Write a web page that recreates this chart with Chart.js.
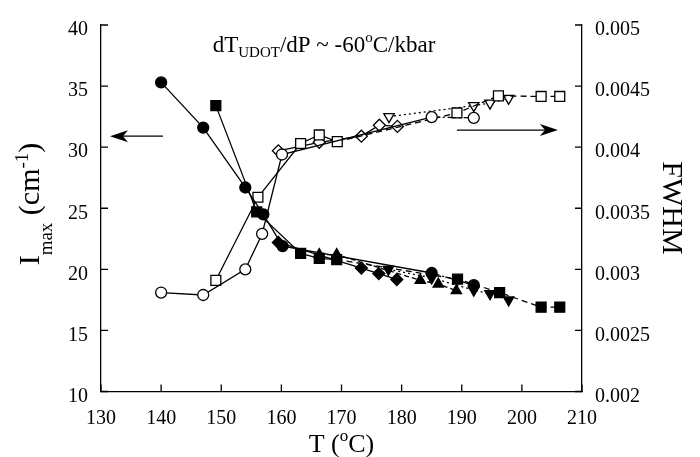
<!DOCTYPE html>
<html><head><meta charset="utf-8">
<script src="https://cdn.jsdelivr.net/npm/chart.js@4/dist/chart.umd.min.js"></script>
<style>html,body{margin:0;padding:0;background:#fff}</style>
</head><body>
<canvas id="c" width="700" height="457"></canvas>
<script>
// ---- tick labels ----
const xTicks = [130,140,150,160,170,180,190,200,210];
const yTicks = [10,15,20,25,30,35,40];
const y2Ticks = [0.002,0.0025,0.003,0.0035,0.004,0.0045,0.005];
const y2Labels = ['0.002','0.0025','0.003','0.0035','0.004','0.0045','0.005'];

// ---- circle run ----
const circT  = [140,147,154,157,160.2,185,192];
const circI  = [35.3,31.6,26.7,24.5,21.9,19.7,18.7];
const circFT = [140,147,154,156.8,160.1,185,192];
const circF  = [0.00281,0.00279,0.0030,0.00329,0.00394,0.004246,0.00424];

// ---- square run ----
const sqT  = [149.1,155.9,163.2,166.3,169.2,189.3,196.3,203.2,206.3];
const sqI  = [33.4,24.7,21.3,20.9,20.8,19.2,18.1,16.9,16.9];
const sqFT = [149.1,156.1,163.2,166.3,169.3,189.2,196.1,203.2,206.3];
const sqF  = [0.00291,0.00359,0.00403,0.0041,0.004045,0.00428,0.00442,0.004415,0.004415];

// ---- diamond run ----
const diaT  = [159.5,173.3,176.2,179.2];
const diaI  = [22.2,20.1,19.65,19.17];
const diaFT = [159.5,166.3,173.3,176.3,179.3];
const diaF  = [0.00397,0.00404,0.00409,0.00418,0.00417];

// ---- up-triangle run ----
const triT = [166.3,169.2,183.1,186.1,189.1];
const triI = [21.2,21.2,19.1,18.8,18.25];

// ---- down-triangle run ----
const invT  = [177.8,185,192,194.7,197.8];
const invI  = [20.0,19.3,18.3,18.0,17.5];
const invFT = [177.9,192,194.7,197.8];
const invF  = [0.00425,0.00434,0.00436,0.0044];

// ---- arrows [from, to] ----
const arrowLeft  = [[140.3,30.9],[131.5,30.9]];      // (T, Imax)
const arrowRight = [[189.2,0.00414],[206.0,0.00414]]; // (T, FWHM)

const SERIF = '"Liberation Serif","Times New Roman",serif';

function pts(xs, ys){ return xs.map((x,i)=>({x:x, y:ys[i]})); }
function ds(xs, ys, axis, style, r, filled, opts){
  return Object.assign({
    data: pts(xs, ys), yAxisID: axis, showLine: true,
    borderColor:'#000', borderWidth:1.3,
    pointStyle: style, pointRadius: r, pointHoverRadius: r,
    pointBackgroundColor: filled ? '#000' : '#fff',
    pointBorderColor:'#000', pointBorderWidth: 1.3,
    fill:false, tension:0
  }, opts||{});
}
const dashAfter = (t, dash) => ({ borderDash: c => c.p0.parsed.x >= t ? dash : undefined });

const datasets = [
  ds(circT, circI, 'y', 'circle', 5.5, true, {segment: dashAfter(170,[8,3,2,3])}),
  ds(circFT, circF, 'y2', 'circle', 5.5, false, {segment: dashAfter(170,[8,3,2,3])}),
  ds(sqT, sqI, 'y', 'rect', 7, true, {segment: dashAfter(169,[6,4])}),
  ds(sqFT, sqF, 'y2', 'rect', 7, false, {segment: dashAfter(169,[6,4])}),
  ds(diaT, diaI, 'y', 'rectRot', 6, true, {segment: dashAfter(176.5,[6,3])}),
  ds(diaFT, diaF, 'y2', 'rectRot', 6, false, {segment: dashAfter(176.5,[6,3])}),
  ds(triT, triI, 'y', 'triangle', 6, true, {borderDash:[5,3]}),
  ds(invT, invI, 'y', 'triangle', 6, true, {pointRotation:180, borderDash:[2,3]}),
  ds(invFT, invF, 'y2', 'triangle', 6, false, {pointRotation:180, borderDash:[2,3]})
];

function drawParts(ctx, parts, x, y, align){
  let w = 0;
  for (const p of parts){ ctx.font = p[1]+'px '+SERIF; w += ctx.measureText(p[0]).width; }
  let cx = align === 'center' ? x - w/2 : x;
  ctx.textAlign = 'left'; ctx.textBaseline = 'alphabetic';
  for (const p of parts){
    ctx.font = p[1]+'px '+SERIF;
    ctx.fillText(p[0], cx, y + p[2]);
    cx += ctx.measureText(p[0]).width;
  }
}

const decor = {
  id:'decor',
  afterDraw(chart){
    const ctx = chart.ctx, X = chart.scales.x, Y = chart.scales.y, Y2 = chart.scales.y2;
    const ca = chart.chartArea;
    ctx.save();
    ctx.strokeStyle = '#000'; ctx.fillStyle = '#000'; ctx.lineWidth = 1.3;
    // inward ticks
    ctx.beginPath();
    for (const v of xTicks){ const px = X.getPixelForValue(v); ctx.moveTo(px, ca.bottom); ctx.lineTo(px, ca.bottom-7); }
    for (const v of yTicks){ const py = Y.getPixelForValue(v); ctx.moveTo(ca.left, py); ctx.lineTo(ca.left+7, py); }
    for (const v of y2Ticks){ const py = Y2.getPixelForValue(v); ctx.moveTo(ca.right, py); ctx.lineTo(ca.right-7, py); }
    ctx.stroke();
    // arrows
    const arrow = (a, ys) => {
      const x0 = X.getPixelForValue(a[0][0]), y0 = ys.getPixelForValue(a[0][1]);
      const x1 = X.getPixelForValue(a[1][0]), y1 = ys.getPixelForValue(a[1][1]);
      const L = Math.hypot(x1-x0, y1-y0), dx = (x1-x0)/L, dy = (y1-y0)/L, nx = -dy, ny = dx;
      const H = 18, W = 6;
      ctx.beginPath(); ctx.moveTo(x0, y0); ctx.lineTo(x1 - dx*H*0.7, y1 - dy*H*0.7); ctx.stroke();
      ctx.beginPath();
      ctx.moveTo(x1, y1);
      ctx.lineTo(x1 - dx*H + nx*W, y1 - dy*H + ny*W);
      ctx.lineTo(x1 - dx*H*0.72, y1 - dy*H*0.72);
      ctx.lineTo(x1 - dx*H - nx*W, y1 - dy*H - ny*W);
      ctx.closePath(); ctx.fill();
    };
    arrow(arrowLeft, Y); arrow(arrowRight, Y2);
    // annotation
    drawParts(ctx, [['dT',23,0],['UDOT',15,5],['/dP ~ -60',23,0],['o',15,-10],['C/kbar',23,0]], 324, 52, 'center');
    // x title
    drawParts(ctx, [['T (',26,0],['o',17,-11],['C)',26,0]], (ca.left+ca.right)/2, 452, 'center');
    // left title
    ctx.save(); ctx.translate(39, 204); ctx.rotate(-Math.PI/2);
    drawParts(ctx, [['I',30,0],['max',19,13],[' (cm',30,0],['-1',19,-11],[')',30,0]], 0, 0, 'center');
    ctx.restore();
    // right title
    ctx.save(); ctx.translate(663, 208); ctx.rotate(Math.PI/2);
    drawParts(ctx, [['FWHM',30,0]], 0, 0, 'center');
    ctx.restore();
    ctx.restore();
  }
};

const tickFont = {family: SERIF, size: 20};
new Chart(document.getElementById('c'), {
  type:'scatter',
  data:{datasets},
  plugins:[decor],
  options:{
    responsive:false, animation:false, devicePixelRatio:1,
    layout:{padding:{top:17,left:0,right:0,bottom:0}},
    plugins:{legend:{display:false}, tooltip:{enabled:false}},
    scales:{
      x:{type:'linear', min:130, max:210,
         afterFit: s => { s.height = 65.5; },
         afterBuildTicks: s => { s.ticks = xTicks.map(v=>({value:v})); },
         grid:{display:false, drawTicks:false},
         border:{display:true, color:'#000', width:1.3},
         ticks:{color:'#000', font:tickFont, padding:15, maxRotation:0, autoSkip:false}},
      y:{type:'linear', position:'left', min:10, max:40,
         afterFit: s => { s.width = 101; },
         afterBuildTicks: s => { s.ticks = yTicks.map(v=>({value:v})); },
         grid:{display:false, drawTicks:false},
         border:{display:true, color:'#000', width:1.3},
         ticks:{color:'#000', font:tickFont, padding:13, labelOffset:5}},
      y2:{type:'linear', position:'right', min:0.002, max:0.005,
         afterFit: s => { s.width = 118; },
         afterBuildTicks: s => { s.ticks = y2Ticks.map(v=>({value:v})); },
         grid:{display:false, drawTicks:false},
         border:{display:true, color:'#000', width:1.3},
         ticks:{color:'#000', font:tickFont, padding:13, labelOffset:5,
                callback: (v) => { const i = y2Ticks.indexOf(v); return i>=0 ? y2Labels[i] : ''; }}}
    }
  }
});
</script>
</body></html>
